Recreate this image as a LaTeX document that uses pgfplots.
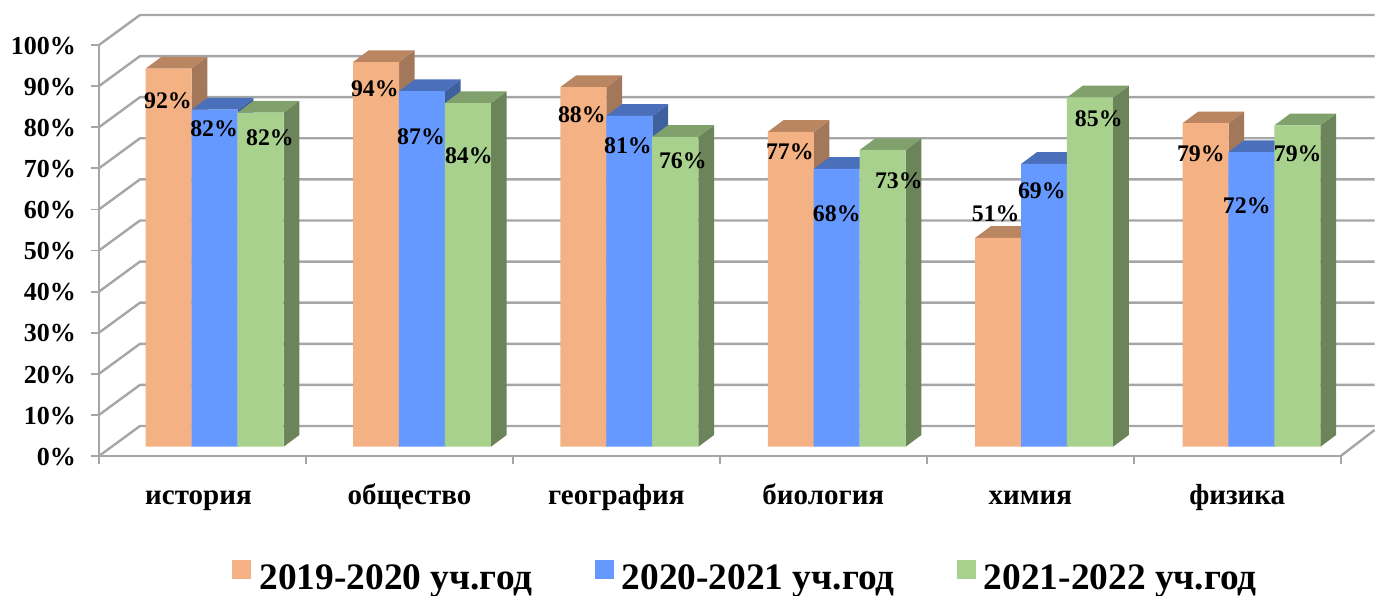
\documentclass[border=0pt]{standalone}
\usepackage{fontspec}
\setmainfont{Liberation Serif}
\usepackage{pgfplots}
\usepackage{pgfplotstable}
\pgfplotsset{compat=1.18}

\definecolor{wallgray}{HTML}{A6A6A6}
\definecolor{ofront}{HTML}{F4B183}
\definecolor{otop}{HTML}{BA8561}
\definecolor{oside}{HTML}{A3775A}
\definecolor{bfront}{HTML}{6699FF}
\definecolor{btop}{HTML}{4A70BC}
\definecolor{bside}{HTML}{3F609F}
\definecolor{gfront}{HTML}{A9D18E}
\definecolor{gtop}{HTML}{80A06C}
\definecolor{gside}{HTML}{6C845A}

% bar positions and heights
\pgfplotstableread{
x v
0 92.0
1.002 93.6
2.004 87.5
3.006 76.6
4.008 50.8
5.010 78.7
}\tblA
\pgfplotstableread{
x v
0 82.0
1.002 86.5
2.004 80.5
3.006 67.6
4.008 68.8
5.010 71.7
}\tblB
\pgfplotstableread{
x v
0 81.3
1.002 83.6
2.004 75.4
3.006 72.2
4.008 85.0
5.010 78.2
}\tblC
% printed labels and where they sit
\pgfplotstableread{
x y lab
-0.167 86.6 92
0.056 79.8 82
0.326 77.6 82
0.833 89.5 94
1.056 77.9 87
1.287 73.2 84
1.833 83.2 88
2.056 75.7 81
2.321 72.0 76
2.838 74.2 77
3.065 59.1 68
3.365 67.2 73
3.833 59.1 51
4.056 64.7 69
4.331 82.2 85
4.824 73.7 79
5.046 61.1 72
5.292 73.7 79
}\tblLab

% side and top faces of one series: table, left edge, side colour, top colour
\newcommand\faces[4]{%
  \pgfplotsforeachungrouped \row in {0,...,5}{%
    \pgfplotstablegetelem{\row}{v}\of{#1}%
    \pgfmathsetmacro\yt{\pgfplotsretval+2.26}%
    \pgfplotstablegetelem{\row}{x}\of{#1}%
    \pgfmathsetmacro\xl{\pgfplotsretval+#2}%
    \pgfmathsetmacro\xr{\xl+0.2222}%
    \pgfmathsetmacro\xrb{\xr+0.0758}%
    \pgfmathsetmacro\xlb{\xl+0.0758}%
    \pgfmathsetmacro\ytb{\yt+2.85}%
    \edef\temp{\noexpand\addplot[forget plot,fill=#3,draw=none] coordinates
      {(\xr,2.26) (\xrb,5.11) (\xrb,\ytb) (\xr,\yt)} --cycle;
      \noexpand\addplot[forget plot,fill=#4,draw=none] coordinates
      {(\xl,\yt) (\xr,\yt) (\xrb,\ytb) (\xlb,\ytb)} --cycle;}%
    \temp
  }%
}

\begin{document}
\begin{tikzpicture}
\useasboundingbox (-49.5pt,-69.5pt) rectangle (638pt,228pt);
\begin{axis}[
    at={(0pt,0pt)}, anchor=south west,
    scale only axis,
    width=620.85pt, height=205.5pt,
    xmin=-0.5, xmax=5.5, ymin=0, ymax=100,
    clip=false,
    axis x line*=bottom, axis y line*=left,
    axis line style={draw=wallgray,line width=1.2pt,-},
    every tick/.style={draw=wallgray,line width=0.9pt},
    tick align=outside, major tick length=4pt,
    xtick={-0.5,0.5,1.5,2.5,3.5,4.5,5.5},
    x tick label as interval,
    xticklabels={история\hspace*{4pt},общество,география,биология,химия,физика},
    x tick label style={font=\fontsize{14.5}{16}\selectfont\bfseries,
      text height=10pt,text depth=3.5pt,yshift=-6.5pt},
    ytick={0,10,...,100},
    /pgf/number format/assume math mode=true,
    yticklabel={\pgfmathprintnumber{\tick}\%},
    y tick label style={font=\fontsize{13}{15}\selectfont\bfseries,xshift=-4pt,yshift=-0.4pt},
    legend columns=3,
    legend style={at={(0.5216,-0.298)},anchor=center,draw=none,fill=none,
      font=\fontsize{18.7}{20}\selectfont\bfseries,
      /tikz/every even column/.append style={column sep=29pt}},
    legend image code/.code={\fill[#1] (0pt,-4.75pt) rectangle (9.5pt,4.75pt);},
]
% back wall, side wall and floor
\pgfplotsforeachungrouped \v in {0,10,...,100}{%
  \pgfmathsetmacro\vb{\v+7.3}%
  \edef\temp{\noexpand\addplot[forget plot,draw=wallgray,line width=1.2pt] coordinates
    {(-0.5,\v) (-0.302,\vb) (5.664,\vb)};}%
  \temp
}
\addplot[forget plot,draw=wallgray,line width=1.2pt] coordinates {(5.5,0) (5.664,6.33)};

\faces{\tblA}{-0.2744}{oside}{otop}
\addplot[ybar,bar width=23pt,bar shift=-16.9pt,yshift=4.65pt,fill=ofront,draw=none] table[x=x,y=v] {\tblA};
\addlegendentry{\hspace*{2pt}2019-2020 уч.год}
\faces{\tblB}{-0.0522}{bside}{btop}
\addplot[ybar,bar width=23pt,bar shift=6.05pt,yshift=4.65pt,fill=bfront,draw=none] table[x=x,y=v] {\tblB};
\addlegendentry{\hspace*{2pt}2020-2021 уч.год}
\faces{\tblC}{0.17}{gside}{gtop}
\addplot[ybar,bar width=23pt,bar shift=29pt,yshift=4.65pt,fill=gfront,draw=none] table[x=x,y=v] {\tblC};
\addlegendentry{\hspace*{2pt}2021-2022 уч.год}

\addplot[forget plot,draw=none,mark=none,
    point meta=\thisrow{lab},
    nodes near coords={\pgfmathprintnumber{\pgfplotspointmeta}\%},
    every node near coord/.append style={anchor=center,inner sep=0pt,text=black,yshift=-0.5pt,
      font=\fontsize{11.9}{14}\selectfont\bfseries}]
  table[x=x,y=y] {\tblLab};
\end{axis}
\end{tikzpicture}
\end{document}
